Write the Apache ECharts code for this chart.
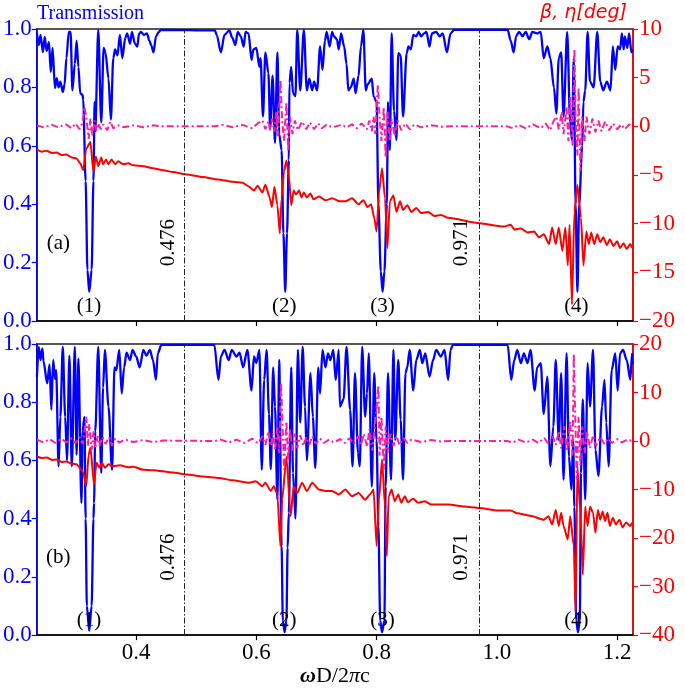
<!DOCTYPE html>
<html><head><meta charset="utf-8">
<script src="https://cdn.jsdelivr.net/npm/echarts@6/dist/echarts.min.js"></script>
<style>html,body{margin:0;padding:0;background:#fff}#c{width:685px;height:688px}</style>
</head><body><div id="c"></div>
<script>
const xTicks = [0.4, 0.6, 0.8, 1.0, 1.2];
const refLines = [0.484, 0.9715];
const refLabels = ['0.476', '0.971'];
const panelLabels = ['(a)', '(b)'];
const dipLabels = ['(1)', '(2)', '(3)', '(4)'];
const dipLabelX = [0.3215, 0.6463, 0.8100, 1.1323];

// Panel (a): transmission
const transA = [[.235,.986],[.238,.945],[.241,.979],[.245,.921],[.248,.973],[.251,.925],[.255,.955],[.258,.853],[.261,.935],[.265,.798],[.268,.832],[.271,.80],[.274,.82],[.278,.784],[.281,.81],[.284,.90],[.288,.99],[.291,.99],[.294,.79],[.298,.88],[.301,.96],[.304,.87],[.307,.78],[.311,.774],[.312,.757],[.316,.48],[.319,.175],[.322,.10],[.326,.175],[.329,.48],[.331,.75],[.332,.65],[.337,.997],[.342,.68],[.346,.935],[.349,.92],[.354,.83],[.358,.69],[.362,.90],[.365,.93],[.369,.91],[.373,.98],[.377,.90],[.382,.97],[.385,.985],[.390,.95],[.393,.99],[.398,.95],[.402,.94],[.405,.985],[.408,.99],[.413,.98],[.418,.985],[.422,.96],[.425,.945],[.429,.92],[.433,.975],[.438,.99],[.441,.997],[.531,.995],[.534,.98],[.541,.92],[.547,.98],[.555,.995],[.560,.97],[.565,.945],[.569,.99],[.574,.975],[.579,.94],[.582,.99],[.587,.985],[.592,.894],[.595,.93],[.600,.935],[.605,.87],[.607,.90],[.611,.70],[.615,.92],[.620,.85],[.623,.66],[.627,.84],[.631,.61],[.635,.92],[.638,.64],[.642,.585],[.645,.30],[.648,.10],[.651,.30],[.654,.55],[.655,.815],[.658,.87],[.661,.78],[.665,.77],[.668,.997],[.673,.79],[.679,.997],[.684,.79],[.688,.83],[.693,.79],[.696,.82],[.701,.79],[.706,.94],[.710,.86],[.714,.96],[.717,.99],[.722,.94],[.726,.99],[.729,.975],[.734,.965],[.737,.93],[.741,.985],[.746,.94],[.750,.88],[.753,.79],[.757,.80],[.762,.83],[.765,.78],[.770,.84],[.774,.94],[.778,.997],[.782,.79],[.785,.81],[.792,.83],[.795,.77],[.800,.75],[.803,.40],[.807,.17],[.810,.10],[.813,.17],[.817,.40],[.819,.75],[.822,.585],[.825,.985],[.829,.72],[.833,.62],[.836,.917],[.840,.91],[.844,.70],[.850,.917],[.853,.94],[.857,.93],[.861,.98],[.866,.975],[.870,.99],[.874,.975],[.879,.985],[.883,.99],[.888,.94],[.892,.985],[.899,.99],[.905,.975],[.910,.985],[.917,.92],[.923,.985],[.929,.997],[1.018,.997],[1.023,.96],[1.028,.92],[1.032,.975],[1.037,.99],[1.043,.975],[1.048,.99],[1.054,.965],[1.059,.99],[1.067,.985],[1.073,.99],[1.078,.90],[1.084,.94],[1.089,.90],[1.095,.80],[1.099,.71],[1.103,.90],[1.107,.92],[1.111,.70],[1.117,.99],[1.122,.68],[1.125,.62],[1.128,.90],[1.131,.40],[1.134,.10],[1.137,.40],[1.142,.60],[1.144,.75],[1.147,.79],[1.151,.99],[1.155,.82],[1.161,.80],[1.167,.99],[1.172,.82],[1.177,.79],[1.183,.82],[1.189,.79],[1.193,.94],[1.197,.86],[1.201,.94],[1.205,.93],[1.208,.985],[1.211,.93],[1.213,.975],[1.217,.935],[1.220,.985],[1.224,.92],[1.226,.93]];

// Panel (a): beta (deg)
const betaA = [[.235,-2.4],[.243,-2.6],[.251,-2.5],[.260,-2.75],[.268,-2.7],[.276,-2.95],[.284,-2.9],[.293,-3.2],[.301,-3.3],[.307,-3.8],[.312,-4.5],[.317,-2.3],[.324,-1.6],[.329,-4.7],[.333,-3.1],[.337,-4.1],[.342,-3.2],[.345,-3.9],[.350,-3.4],[.354,-3.9],[.359,-3.4],[.365,-3.9],[.370,-3.6],[.379,-3.9],[.387,-3.8],[.395,-4.0],[.412,-4.1],[.428,-4.3],[.445,-4.5],[.461,-4.7],[.484,-4.95],[.511,-5.2],[.536,-5.45],[.560,-5.7],[.577,-5.8],[.588,-6.2],[.596,-6.6],[.602,-6.1],[.610,-6.8],[.615,-6.0],[.622,-7.3],[.626,-8.3],[.630,-6.2],[.635,-8.1],[.639,-11.0],[.642,-7.4],[.646,-4.6],[.650,-3.5],[.654,-5.0],[.658,-8.1],[.662,-6.6],[.666,-7.0],[.671,-6.6],[.675,-7.3],[.679,-6.8],[.684,-7.3],[.690,-6.9],[.695,-7.5],[.704,-7.2],[.715,-7.6],[.726,-7.4],[.739,-7.7],[.748,-7.7],[.759,-7.4],[.770,-8.0],[.778,-7.6],[.785,-8.3],[.791,-8.0],[.796,-9.4],[.800,-10.8],[.804,-6.8],[.809,-4.3],[.814,-7.4],[.818,-12.5],[.822,-7.7],[.828,-7.1],[.833,-8.8],[.839,-7.7],[.844,-8.6],[.851,-8.1],[.858,-8.8],[.866,-8.4],[.874,-8.9],[.886,-8.8],[.896,-9.2],[.907,-9.1],[.919,-9.4],[.971,-9.96],[1.012,-10.3],[1.023,-10.1],[1.029,-10.6],[1.040,-10.5],[1.051,-10.9],[1.062,-10.8],[1.070,-11.4],[1.078,-11.1],[1.087,-12.1],[1.092,-10.4],[1.098,-12.1],[1.103,-10.4],[1.109,-12.8],[1.114,-10.4],[1.118,-14.3],[1.121,-10.1],[1.125,-18.3],[1.129,-8.8],[1.134,-6.0],[1.140,-9.4],[1.144,-14.3],[1.149,-10.8],[1.153,-12.1],[1.157,-10.9],[1.162,-12.1],[1.167,-11.1],[1.172,-11.9],[1.177,-11.4],[1.183,-12.2],[1.188,-11.6],[1.194,-12.3],[1.200,-11.8],[1.205,-12.5],[1.211,-12.0],[1.216,-12.6],[1.222,-12.1],[1.225,-12.5]];

// Panel (a): eta (deg)
const etaA = [[.235,.1],[.246,-.1],[.260,.15],[.271,-.1],[.283,.2],[.293,-.2],[.299,.3],[.306,-.3],[.311,.4],[.314,2.0],[.317,1.0],[.321,-1.3],[.324,.8],[.327,-1.0],[.331,.6],[.334,-.5],[.337,.3],[.341,-.3],[.345,.2],[.352,-.4],[.357,.5],[.362,-.2],[.370,.1],[.379,-.1],[.395,.1],[.412,-.1],[.428,.1],[.445,0],[.531,0],[.544,.15],[.560,-.1],[.577,.15],[.593,-.2],[.602,.3],[.610,.6],[.615,-.3],[.620,.5],[.623,-.4],[.626,.8],[.630,-.6],[.633,1.5],[.636,-1.0],[.640,4.8],[.643,.5],[.646,-1.5],[.650,2.5],[.653,-2.5],[.656,1.0],[.660,-.8],[.664,.6],[.669,-.4],[.676,.5],[.683,-.3],[.689,.4],[.696,-.3],[.703,.3],[.709,-.2],[.717,.2],[.726,-.1],[.742,.15],[.750,-.1],[.759,.2],[.767,-.2],[.775,.3],[.784,-.3],[.788,.6],[.792,-.5],[.795,1.0],[.798,-.8],[.802,4.3],[.805,1.0],[.808,-1.5],[.812,2.0],[.815,-3.2],[.818,1.5],[.822,-1.5],[.825,.8],[.830,-1.0],[.835,.6],[.841,-.4],[.848,.3],[.855,-.3],[.863,.2],[.874,-.1],[.891,.1],[.908,-.05],[.924,0],[1.017,0],[1.027,-.2],[1.036,.15],[1.048,-.2],[1.060,.2],[1.073,-.2],[1.081,.3],[1.089,-.4],[1.094,.5],[1.099,1.0],[1.103,-.3],[1.108,1.5],[1.111,-.8],[1.116,2.0],[1.119,-1.5],[1.122,3.0],[1.126,-2.0],[1.129,8.0],[1.131,1.0],[1.134,-3.0],[1.136,4.0],[1.139,-4.6],[1.142,1.0],[1.146,-1.5],[1.149,1.0],[1.154,-.8],[1.159,.8],[1.164,-.6],[1.169,.6],[1.174,-.5],[1.180,.5],[1.187,-.4],[1.193,.3],[1.200,-.3],[1.207,.2],[1.213,-.3],[1.220,.2],[1.226,-.1]];

// Panel (b): transmission
const transB = [[.235,.888],[.238,.99],[.241,.945],[.244,.985],[.246,.94],[.252,.865],[.256,.93],[.259,.774],[.262,.945],[.265,.88],[.267,.91],[.271,.58],[.274,.75],[.278,.99],[.282,.75],[.285,.60],[.289,.96],[.293,.58],[.298,.99],[.301,.62],[.304,.95],[.309,.454],[.311,.70],[.314,.75],[.316,.40],[.318,.10],[.322,.015],[.326,.10],[.329,.40],[.330,.454],[.332,.70],[.337,.99],[.342,.557],[.345,.85],[.348,.98],[.354,.785],[.360,.568],[.364,.92],[.367,.91],[.372,.98],[.376,.83],[.380,.92],[.384,.97],[.390,.945],[.394,.98],[.400,.957],[.406,.92],[.412,.98],[.417,.96],[.423,.98],[.428,.945],[.433,.877],[.436,.968],[.442,.997],[.530,.997],[.537,.877],[.541,.957],[.547,.98],[.554,.945],[.559,.98],[.567,.957],[.572,.97],[.578,.92],[.585,.98],[.592,.84],[.596,.957],[.600,.935],[.605,.98],[.609,.568],[.613,.877],[.617,.98],[.621,.76],[.624,.57],[.628,.92],[.631,.785],[.635,.466],[.638,.945],[.642,.306],[.644,.05],[.647,.01],[.650,.05],[.652,.30],[.654,.42],[.658,.92],[.661,.557],[.665,.40],[.669,.98],[.673,.73],[.677,.99],[.681,.785],[.684,.60],[.690,.90],[.694,.75],[.698,.574],[.703,.92],[.706,.83],[.710,.98],[.715,.92],[.719,.968],[.723,.945],[.728,.98],[.732,.877],[.737,.98],[.739,.785],[.745,.81],[.750,.99],[.756,.774],[.760,.58],[.764,.90],[.769,.626],[.772,.58],[.776,.99],[.781,.75],[.784,.83],[.787,.968],[.792,.51],[.796,.90],[.800,.67],[.803,.374],[.806,.05],[.809,.01],[.813,.05],[.815,.51],[.819,.90],[.824,.534],[.828,.98],[.831,.67],[.836,.945],[.840,.74],[.844,.534],[.848,.90],[.851,.92],[.855,.98],[.861,.84],[.866,.945],[.872,.98],[.876,.934],[.881,.968],[.888,.888],[.894,.945],[.899,.98],[.907,.957],[.913,.98],[.919,.877],[.923,.98],[.927,.997],[1.018,.997],[1.024,.877],[1.029,.945],[1.034,.98],[1.040,.934],[1.045,.968],[1.051,.934],[1.056,.98],[1.063,.84],[1.067,.92],[1.073,.934],[1.078,.76],[1.084,.888],[1.089,.58],[1.094,.717],[1.098,.945],[1.103,.67],[1.107,.90],[1.111,.534],[1.116,.968],[1.120,.614],[1.124,.50],[1.127,.67],[1.129,.44],[1.132,.05],[1.135,.01],[1.138,.05],[1.140,.557],[1.143,.81],[1.147,.466],[1.151,.934],[1.155,.785],[1.160,.98],[1.164,.637],[1.169,.546],[1.175,.785],[1.179,.877],[1.182,.73],[1.186,.58],[1.191,.91],[1.197,.968],[1.201,.84],[1.205,.968],[1.210,.98],[1.216,.945],[1.222,.877],[1.225,.968],[1.226,.93]];

// Panel (b): beta (deg)
const betaB = [[.235,-3.2],[.243,-3.5],[.251,-3.4],[.260,-3.9],[.268,-3.8],[.276,-4.3],[.284,-4.2],[.293,-4.7],[.301,-4.8],[.307,-5.6],[.312,-6.5],[.317,-9.3],[.321,-2.8],[.324,-1.4],[.330,-9.0],[.334,-4.5],[.339,-5.5],[.343,-4.5],[.348,-5.5],[.354,-4.8],[.362,-5.2],[.373,-5.0],[.387,-5.4],[.395,-5.3],[.412,-5.9],[.428,-6.0],[.461,-6.5],[.484,-6.9],[.511,-7.3],[.538,-7.6],[.560,-8.1],[.588,-8.6],[.599,-8.3],[.610,-9.3],[.615,-8.6],[.624,-10.3],[.629,-9.3],[.635,-11.0],[.640,-21.7],[.643,-12.0],[.650,-3.2],[.657,-15.5],[.662,-9.3],[.668,-10.7],[.676,-8.6],[.684,-10.3],[.693,-8.6],[.704,-10.0],[.715,-10.3],[.726,-10.3],[.737,-11.0],[.748,-10.0],[.759,-11.4],[.770,-10.7],[.781,-12.1],[.789,-11.0],[.795,-10.0],[.800,-21.6],[.804,-12.1],[.809,-3.8],[.814,-13.5],[.817,-23.7],[.820,-11.4],[.825,-10.0],[.830,-12.4],[.836,-11.0],[.841,-12.7],[.847,-11.4],[.852,-12.6],[.861,-11.9],[.869,-12.7],[.880,-12.4],[.891,-13.1],[.919,-13.1],[.946,-13.5],[.971,-13.8],[1.001,-14.3],[1.023,-14.3],[1.034,-14.9],[1.056,-15.4],[1.078,-16.2],[1.086,-15.5],[1.092,-17.2],[1.098,-14.2],[1.103,-17.5],[1.107,-14.8],[1.111,-17.5],[1.118,-20.3],[1.122,-15.5],[1.128,-21.6],[1.131,-35.3],[1.134,-5.2],[1.139,-14.8],[1.143,-27.5],[1.147,-13.5],[1.151,-17.5],[1.155,-13.5],[1.160,-14.8],[1.164,-18.9],[1.168,-14.2],[1.172,-16.2],[1.176,-14.5],[1.180,-16.5],[1.184,-14.8],[1.188,-17.5],[1.193,-15.8],[1.198,-17.2],[1.204,-16.2],[1.209,-17.8],[1.215,-16.8],[1.222,-17.5],[1.225,-16.8]];

// Panel (b): eta (deg)
const etaB = [[.235,.3],[.246,-.3],[.256,.4],[.266,-.4],[.276,.5],[.284,-.3],[.293,.6],[.299,-.5],[.306,.8],[.311,-.6],[.314,1.5],[.317,5.0],[.320,-1.0],[.322,3.5],[.326,-1.8],[.329,2.0],[.332,-1.5],[.336,1.0],[.339,-1.0],[.344,.8],[.349,-.6],[.355,.8],[.360,-1.0],[.365,.5],[.372,-.3],[.382,.3],[.395,-.2],[.412,.2],[.428,-.2],[.445,.1],[.531,0],[.541,.3],[.554,-.3],[.567,.3],[.580,-.4],[.593,.5],[.603,-.5],[.610,1.0],[.615,-.8],[.620,2.0],[.624,-1.0],[.628,1.5],[.631,-2.0],[.635,3.0],[.638,-2.5],[.641,11.9],[.644,2.0],[.646,-5.9],[.650,4.0],[.653,-4.0],[.656,2.5],[.660,-2.0],[.664,1.5],[.668,-1.5],[.673,1.2],[.678,-1.0],[.683,.8],[.688,-.8],[.693,1.0],[.699,-.6],[.706,.5],[.712,-.4],[.721,.3],[.729,-.3],[.739,.4],[.747,-.4],[.755,.6],[.762,-.6],[.769,1.0],[.774,-.8],[.779,1.5],[.784,-1.2],[.788,2.5],[.793,-2.0],[.798,4.0],[.803,11.5],[.805,-3.0],[.808,5.0],[.812,-5.9],[.815,3.0],[.818,-2.5],[.823,1.5],[.828,-1.0],[.833,1.0],[.838,-.8],[.845,.6],[.851,-.4],[.858,.3],[.874,-.2],[.891,.2],[.907,-.1],[.924,0],[1.017,0],[1.027,-.3],[1.036,.3],[1.048,-.3],[1.060,.3],[1.069,-.4],[1.079,.6],[1.086,-.6],[1.093,1.0],[1.098,-.8],[1.103,2.0],[1.107,-1.5],[1.112,3.0],[1.117,-2.0],[1.122,4.0],[1.126,-3.0],[1.128,18.0],[1.131,2.0],[1.133,-7.9],[1.136,5.0],[1.139,-5.0],[1.142,3.0],[1.146,-2.5],[1.150,2.0],[1.155,-1.5],[1.160,1.2],[1.165,-1.0],[1.172,.8],[1.179,-.6],[1.185,.5],[1.192,-.4],[1.200,.4],[1.208,-.3],[1.217,.3],[1.226,0]];

const BLUE = '#0000ff', RED = '#ff0000', PINK = '#ff1f9e';
const SERIF = "'Liberation Serif','Times New Roman',serif";
const XMIN = 0.2347, XMAX = 1.2265;
const minus = v => String(v).replace('-', '\u2212');

function xAxisFor(i, showLabels) {
  return {
    type: 'value', gridIndex: i, min: XMIN, max: XMAX, position: 'bottom',
    axisLine: { show: true, onZero: false, lineStyle: { color: '#000', width: 1.5 } },
    axisTick: { show: true, inside: false, length: 5, customValues: xTicks, lineStyle: { color: '#000', width: 1.2 } },
    axisLabel: { show: showLabels, customValues: xTicks, formatter: v => v.toFixed(1), color: '#000', fontSize: 23, fontFamily: SERIF, margin: 6 },
    splitLine: { show: false },
    name: showLabels ? '{w|\u03c9}D/2{p|\u03c0}c' : '',
    nameLocation: 'middle', nameGap: 26,
    nameTextStyle: { color: '#000', fontSize: 22, fontFamily: SERIF,
      rich: { w: { fontSize: 22, fontWeight: 'bold', fontStyle: 'italic', fontFamily: SERIF, color: '#000' },
              p: { fontSize: 22, fontStyle: 'italic', fontFamily: SERIF, color: '#000' } } }
  };
}
function yLeft(i) {
  return {
    type: 'value', gridIndex: i, min: 0, max: 1, interval: 0.2, position: 'left',
    axisLine: { show: true, lineStyle: { color: BLUE, width: 1.6 } },
    axisTick: { show: true, inside: false, length: 5, lineStyle: { color: BLUE, width: 1.2 } },
    axisLabel: { color: BLUE, fontSize: 23, fontFamily: SERIF, margin: 5, formatter: v => v.toFixed(1) },
    splitLine: { show: false }
  };
}
function yRight(i, mn, mx, step) {
  return {
    type: 'value', gridIndex: i, min: mn, max: mx, interval: step, position: 'right',
    axisLine: { show: true, lineStyle: { color: RED, width: 1.6 } },
    axisTick: { show: true, inside: false, length: 5, lineStyle: { color: RED, width: 1.2 } },
    axisLabel: { color: RED, fontSize: 23, fontFamily: SERIF, margin: 6, formatter: minus },
    splitLine: { show: false }
  };
}
function lineSeries(data, xi, yi, color, width, type, z, smooth) {
  return { type: 'line', xAxisIndex: xi, yAxisIndex: yi, data: data, showSymbol: false, symbol: 'none',
    smooth: smooth || false, smoothMonotone: 'x',
    lineStyle: { color: color, width: width, type: type }, z: z, silent: true };
}
function annotations(xi, yi, panelIdx, dipY) {
  const txt = { color: '#000', opacity: 1, fontSize: 21, fontFamily: SERIF, textBorderWidth: 0, textShadowBlur: 0 };
  const data = [];
  data.push({ value: [0.2706, 0.265], label: Object.assign({ formatter: panelLabels[panelIdx] }, txt) });
  for (let k = 0; k < dipLabels.length; k++)
    data.push({ value: [dipLabelX[k], dipY], label: Object.assign({ formatter: dipLabels[k] }, txt) });
  const rx = [0.4535, 0.9418];
  for (let k = 0; k < refLabels.length; k++)
    data.push({ value: [rx[k], 0.268], label: Object.assign({ formatter: refLabels[k], rotate: 90 }, txt) });
  return { type: 'scatter', xAxisIndex: xi, yAxisIndex: yi, symbolSize: 0, data: data, z: 20, silent: true,
    itemStyle: { opacity: 1, color: '#000' },
    label: { show: true, position: 'inside', color: '#000', opacity: 1, textBorderWidth: 0 } };
}
function refMark() {
  return { symbol: 'none', silent: true, label: { show: false },
    lineStyle: { color: '#222', width: 1, type: [6, 2, 1.5, 2] },
    data: refLines.map(v => ({ xAxis: v })) };
}

const chart = echarts.init(document.getElementById('c'), null, { renderer: 'canvas' });
const sA = lineSeries(transA, 0, 0, BLUE, 2.3, 'solid', 3, 0.3); sA.markLine = refMark();
const sB = lineSeries(transB, 1, 2, BLUE, 2.3, 'solid', 3, 0.3); sB.markLine = refMark();
chart.setOption({
  animation: false,
  backgroundColor: '#fff',
  grid: [
    { left: 33, top: 29, width: 600, height: 292, show: true, borderColor: '#222', borderWidth: 1.5, backgroundColor: 'transparent' },
    { left: 33, top: 344, width: 600, height: 292, show: true, borderColor: '#222', borderWidth: 1.5, backgroundColor: 'transparent' }
  ],
  xAxis: [xAxisFor(0, false), xAxisFor(1, true)],
  yAxis: [yLeft(0), yRight(0, -20, 10, 5), yLeft(1), yRight(1, -40, 20, 10)],
  graphic: [
    { type: 'text', left: 37, top: 4, style: { text: 'Transmission', fill: BLUE, font: "20px 'Liberation Serif'" } },
    { type: 'text', right: 58, top: 4, style: { text: '\u03b2, \u03b7[deg]', fill: RED, font: "italic 19px 'DejaVu Sans'" } }
  ],
  series: [
    sA,
    lineSeries(betaA, 0, 1, RED, 2, 'solid', 4, 0.2),
    lineSeries(etaA, 0, 1, PINK, 2, [7, 3, 2, 3], 5),
    annotations(0, 0, 0, 0.048),
    sB,
    lineSeries(betaB, 1, 3, RED, 2, 'solid', 4, 0.2),
    lineSeries(etaB, 1, 3, PINK, 2, [7, 3, 2, 3], 5),
    annotations(1, 2, 1, 0.051)
  ]
});
</script></body></html>
